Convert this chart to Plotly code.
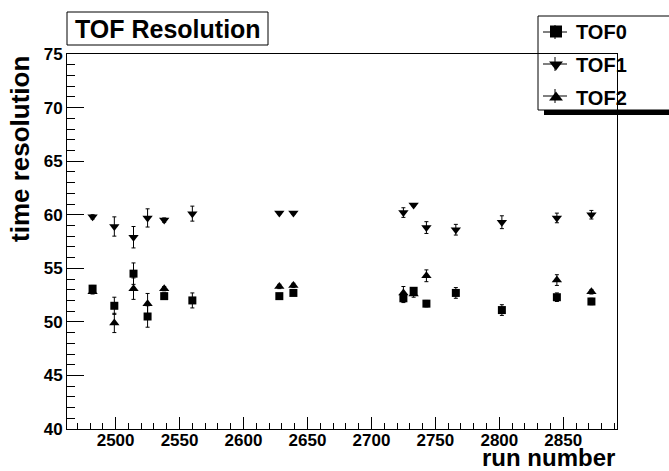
import plotly.graph_objects as go

runs = [2482, 2499, 2514, 2525, 2538, 2560, 2628, 2639, 2725, 2733, 2743, 2766, 2802, 2845, 2872]

tof0 = [53.1, 51.5, 54.5, 50.5, 52.4, 52.0, 52.4, 52.7, 52.2, 52.9, 51.7, 52.7, 51.1, 52.3, 51.9]
tof0_err = [0.3, 0.8, 1.0, 1.0, 0.3, 0.7, 0.2, 0.2, 0.4, 0.3, 0.3, 0.5, 0.5, 0.4, 0.3]

tof1 = [59.8, 58.9, 57.9, 59.7, 59.5, 60.1, 60.15, 60.15, 60.2, 60.9, 58.8, 58.6, 59.3, 59.7, 60.0]
tof1_err = [0.2, 0.9, 1.0, 0.85, 0.2, 0.7, 0.1, 0.1, 0.45, 0.1, 0.55, 0.5, 0.6, 0.45, 0.4]

tof2 = [52.8, 49.9, 53.1, 51.7, 53.1, None, 53.3, 53.4, 52.7, 52.6, 54.3, None, None, 53.9, 52.8]
tof2_err = [0.2, 0.9, 1.0, 0.95, 0.2, None, 0.2, 0.2, 0.6, 0.3, 0.55, None, None, 0.5, 0.2]

series_names = ["TOF0", "TOF1", "TOF2"]
x_range = [2462, 2892]
y_range = [40, 75]

FONT = "Liberation Sans, Arial, Helvetica, sans-serif"
W, H = 669, 471
L, R, T, B = 67, 52, 54, 42
PW, PH = W - L - R, H - T - B


def px(xp):
    return (xp - L) / PW


def py(yp):
    return (H - B - yp) / PH


fig = go.Figure()

specs = [
    (tof2, tof2_err, series_names[2], "triangle-up", 9, 3),
    (tof1, tof1_err, series_names[1], "triangle-down", 9, 2),
    (tof0, tof0_err, series_names[0], "square", 8, 1),
]
for vals, errs, name, sym, size, rank in specs:
    fig.add_trace(go.Scatter(
        x=runs, y=vals, name=name, mode="markers",
        marker=dict(symbol=sym, size=size, color="black", line=dict(width=0)),
        error_y=dict(type="data", array=errs, color="black", thickness=1, width=2),
        legendrank=rank, legendgroup=name,
    ))

shapes = []
# legend shadow and box
shapes.append(dict(type="rect", xref="paper", yref="paper",
                   x0=px(544), x1=px(690), y0=py(115), y1=py(22),
                   fillcolor="black", line=dict(width=0), layer="below"))
shapes.append(dict(type="rect", xref="paper", yref="paper",
                   x0=px(538), x1=px(690), y0=py(110), y1=py(16),
                   fillcolor="white", line=dict(color="black", width=1), layer="below"))
# title box
shapes.append(dict(type="rect", xref="paper", yref="paper",
                   x0=px(67), x1=px(268), y0=py(45), y1=py(12),
                   fillcolor="white", line=dict(color="black", width=1), layer="above"))
# legend entry crosses
for cy in [32, 64, 96]:
    shapes.append(dict(type="line", xref="paper", yref="paper",
                       x0=px(543), x1=px(567), y0=py(cy), y1=py(cy),
                       line=dict(color="black", width=1), layer="above"))
    shapes.append(dict(type="line", xref="paper", yref="paper",
                       x0=px(555), x1=px(555), y0=py(cy - 7), y1=py(cy + 7),
                       line=dict(color="black", width=1), layer="above"))

annotations = [
    dict(text="<b>TOF Resolution</b>", xref="paper", yref="paper",
         x=px(167.5), y=py(29), xanchor="center", yanchor="middle",
         showarrow=False, font=dict(family=FONT, size=25, color="black")),
    dict(text="<b>time resolution</b>", xref="paper", yref="paper",
         x=px(20), y=py(54), xanchor="center", yanchor="top", textangle=-90,
         showarrow=False, font=dict(family=FONT, size=26, color="black")),
    dict(text="<b>run number</b>", xref="paper", yref="paper",
         x=px(617), y=py(457), xanchor="right", yanchor="middle",
         showarrow=False, font=dict(family=FONT, size=24, color="black")),
]

fig.update_layout(
    width=W, height=H,
    margin=dict(l=L, r=R, t=T, b=B, pad=0, autoexpand=False),
    paper_bgcolor="white", plot_bgcolor="white",
    font=dict(family=FONT, color="black"),
    showlegend=True,
    legend=dict(x=px(536), y=py(12), xanchor="left", yanchor="top",
                bgcolor="rgba(0,0,0,0)", borderwidth=0,
                font=dict(family=FONT, size=20, color="black", weight="bold"),
                tracegroupgap=4, itemsizing="constant"),
    shapes=shapes,
    annotations=annotations,
    xaxis=dict(range=x_range, tick0=2500, dtick=50, ticks="inside", ticklen=12,
               tickcolor="black", showline=True, linecolor="black", linewidth=1,
               mirror=True, showgrid=False, zeroline=False, automargin=False,
               ticklabelstandoff=-4,
               tickfont=dict(family=FONT, size=17, color="black", weight="bold"),
               minor=dict(dtick=10, ticks="inside", ticklen=6, tickcolor="black", showgrid=False)),
    yaxis=dict(range=y_range, tick0=40, dtick=5, ticks="inside", ticklen=17,
               tickcolor="black", showline=True, linecolor="black", linewidth=1,
               mirror=True, showgrid=False, zeroline=False, automargin=False,
               tickfont=dict(family=FONT, size=17, color="black", weight="bold"),
               minor=dict(dtick=1, ticks="inside", ticklen=8, tickcolor="black", showgrid=False)),
)

fig.write_html("out.html", config={"displayModeBar": False},
               post_script="document.body.style.margin='0';document.body.style.padding='0';")
